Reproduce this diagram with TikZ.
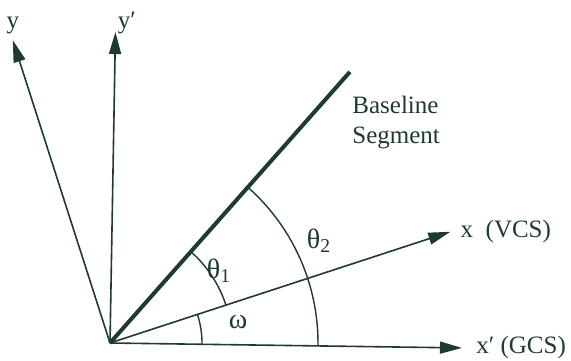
\documentclass[tikz,border=0pt]{standalone}
\usepackage{fontspec}
\setmainfont{Liberation Serif}
\usepackage{tikz}
\usetikzlibrary{arrows.meta,positioning,calc}
\definecolor{inkgreen}{HTML}{1F3A2E}
\tikzset{
  axisline/.style={-{Triangle[length=11pt,width=6pt]}, line width=0.8pt, draw=inkgreen},
  baseseg/.style={line width=2pt, draw=inkgreen},
  anglearc/.style={line width=0.7pt, draw=inkgreen},
  axislabel/.style={font=\fontsize{12.5}{15}\selectfont, text=inkgreen, inner sep=1pt},
  anglelabel/.style={font=\fontsize{14}{16}\selectfont, text=inkgreen, inner sep=1pt}
}

\begin{document}
\begin{tikzpicture}[x=0.5pt,y=0.5pt]
    \useasboundingbox (0,0) rectangle (571,360);
    \coordinate (O) at (110,17);
    \coordinate (xg) at (-0.8:352);
    \coordinate (yg) at (89:311);
    \coordinate (xv) at (18.1:358);
    \coordinate (yv) at (107.8:318);
    \coordinate (bs) at (48.5:362);

    % axes and baseline
    \draw[axisline] (O) -- ($(O)+(xg)$) coordinate (xgtip);
    \draw[axisline] (O) -- ($(O)+(yg)$) coordinate (ygtip);
    \draw[axisline] (O) -- ($(O)+(xv)$) coordinate (xvtip);
    \draw[axisline] (O) -- ($(O)+(yv)$) coordinate (yvtip);
    \draw[baseseg] (O) -- ($(O)+(bs)$) coordinate (bstip);

    % angles
    \draw[anglearc] ([shift={(-0.8:92)}]O) arc[start angle=-0.8, end angle=18.1, radius=92];
    \draw[anglearc] ([shift={(18.1:122)}]O) arc[start angle=18.1, end angle=48.5, radius=122];
    \draw[anglearc] ([shift={(-0.8:208)}]O) arc[start angle=-0.8, end angle=48.5, radius=208];

    \node[anglelabel] (om) at (238,38) {ω};
    \node[anglelabel] (th1) at (219,89) {θ\textsubscript{1}};
    \node[anglelabel] (th2) at (319,119) {θ\textsubscript{2}};

    % labels
    \node[axislabel, above=2pt of yvtip] (ylab) {y};
    \node[axislabel, above right=-2pt and 0pt of ygtip] (yplab) {y′};
    \node[axislabel, right=4pt of xvtip, anchor=west] (xlab) {x\ \ (VCS)};
    \node[axislabel, right=6pt of xgtip, anchor=west] (xplab) {x′ (GCS)};
    \node[axislabel, align=left, anchor=north west] (bslab) at (350,266) {Baseline\\Segment};
\end{tikzpicture}
\end{document}
